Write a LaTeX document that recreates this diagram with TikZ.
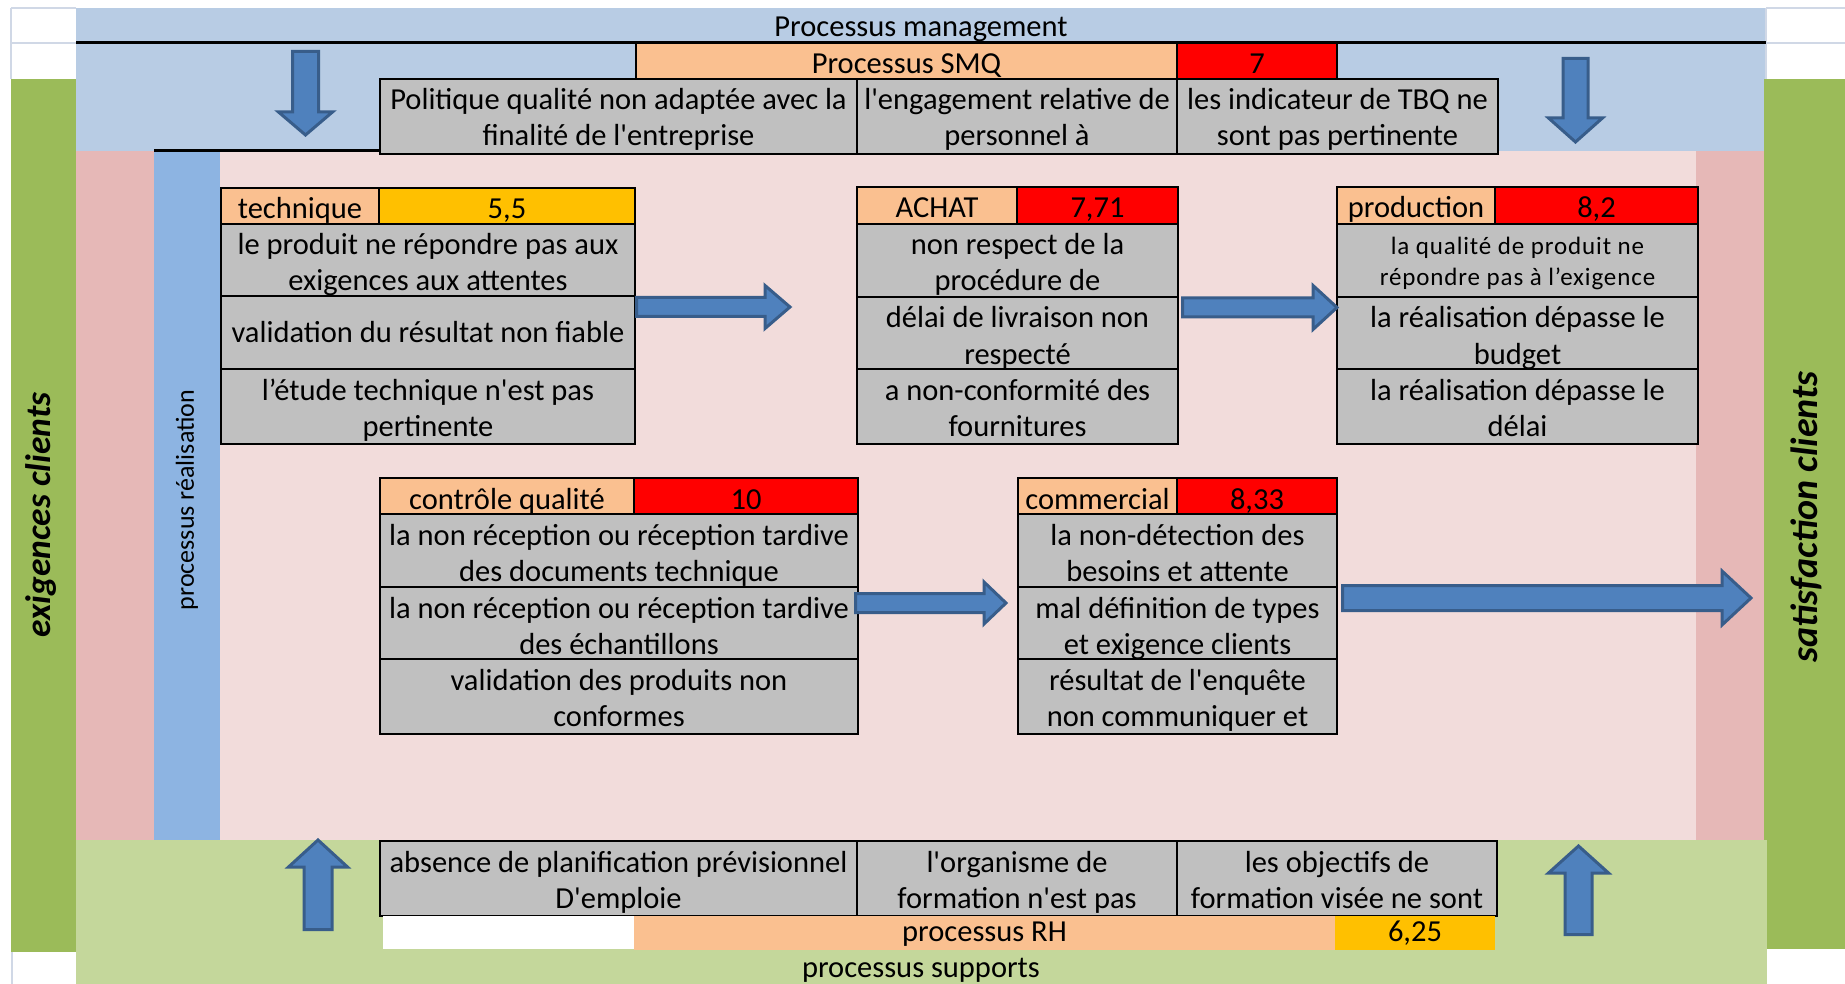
\documentclass[tikz,border=0pt]{standalone}
\usepackage{fontspec}
\setmainfont{Carlito}
\usetikzlibrary{calc}
\definecolor{mgmt}{HTML}{B8CCE4}
\definecolor{gdark}{HTML}{9BBB59}
\definecolor{glight}{HTML}{C4D79B}
\definecolor{plight}{HTML}{F2DCDB}
\definecolor{pdark}{HTML}{E6B8B7}
\definecolor{bstrip}{HTML}{8DB4E2}
\definecolor{corange}{HTML}{FAC090}
\definecolor{cyellow}{HTML}{FFC000}
\definecolor{cred}{HTML}{FF0000}
\definecolor{cgray}{HTML}{C0C0C0}
\definecolor{afill}{HTML}{4F81BD}
\definecolor{aline}{HTML}{385D8A}
\definecolor{gridc}{HTML}{D0D8E6}
\newcommand\cellf{\fontsize{30.5}{36}\selectfont}
\newcommand\smallcellf{\fontsize{25}{31}\selectfont\addfontfeature{LetterSpace=3.5}}
\newcommand\ap{\textquotesingle}
\newcommand\tline[2]{\rule{0pt}{31pt}#1\\#2\rule[-8pt]{0pt}{8pt}}
\newcommand\oline[1]{\rule{0pt}{31pt}#1\rule[-8pt]{0pt}{8pt}}
\newcommand\rline[1]{\rule{0pt}{26pt}#1\rule[-8pt]{0pt}{8pt}}
\newcommand\sline[2]{\rule{0pt}{26.5pt}#1\\#2\rule[-7pt]{0pt}{7pt}}
\newcommand\barr[5]{%
  \path (#2) coordinate (tmptip) ($(#2)!#5!(#1)$) coordinate (tmphb);
  \draw[barrow] ($(#1)!#3!90:(tmptip)$) -- ($(tmphb)!#3!90:(tmptip)$) -- ($(tmphb)!#4!90:(tmptip)$) -- (tmptip)
    -- ($(tmphb)!#4!-90:(tmptip)$) -- ($(tmphb)!#3!-90:(tmptip)$) -- ($(#1)!#3!-90:(tmptip)$) -- cycle;}
\begin{document}
\begin{tikzpicture}[x=1pt,y=-1pt,
  cellbase/.style={draw=black,line width=2.7pt,anchor=north west,inner sep=0pt,outer sep=0pt,align=center,font=\cellf},
  gcell/.style={cellbase,fill=cgray},
  ocell/.style={cellbase,fill=corange},
  rcell/.style={cellbase,fill=cred},
  ycell/.style={cellbase,fill=cyellow},
  plain/.style={anchor=north west,inner sep=0pt,outer sep=0pt,align=center,font=\cellf},
  barrow/.style={fill=afill,draw=aline,line width=3pt,line join=miter},
  gridl/.style={draw=gridc,line width=1.5pt},
  blackl/.style={draw=black,line width=3pt}
]
\useasboundingbox (0,0) rectangle (1845,984);
\fill[white] (0,0) rectangle (1845,984);
% background bands
\fill[mgmt] (76,8) rectangle (1766,151);
\fill[gdark] (11,79) rectangle (76,952);
\fill[gdark] (1764,79) rectangle (1845,949);
\fill[glight] (76,840) rectangle (1767,984);
\fill[pdark] (76,151) rectangle (154,840);
\fill[pdark] (1696,151) rectangle (1764,840);
\fill[bstrip] (154,151) rectangle (220,840);
\fill[plight] (220,151) rectangle (1696,840);
% grid lines of empty cells
\draw[gridl] (11,8) -- (76,8) (11,43) -- (76,43) (11,8) -- (11,79);
\draw[gridl] (1766,8) -- (1845,8) (1766,43) -- (1845,43) (1766,8) -- (1766,79);
\draw[gridl] (12,952) -- (12,984);
% black rules
\draw[blackl] (76,43) -- (1766,43);
\draw[blackl] (154,151) -- (380,151);
% band labels
\node[font=\cellf] (mgmt) at (921,29) {Processus management};
\node[font=\cellf] (supp) at (921,970) {processus supports};
\node[rotate=90,font=\fontsize{35.5}{40}\selectfont\bfseries\itshape] (exig) at (41,515) {exigences clients};
\node[rotate=90,font=\fontsize{38}{42}\selectfont\bfseries\itshape] (satis) at (1806,517) {satisfaction clients};
\node[rotate=90,font=\fontsize{26}{30}\selectfont] (real) at (187,500) {processus réalisation};
% SMQ
\node[ocell,minimum width=541,minimum height=36] (smq) at (636,43) {\oline{Processus SMQ}};
\node[rcell,minimum width=160,minimum height=36] (smqv) at (1177,43) {\oline{7}};
\node[gcell,minimum width=477,minimum height=74] (smq1) at (380,79) {\tline{Politique qualité non adaptée avec la}{finalité de l\ap entreprise}};
\node[gcell,minimum width=320,minimum height=74] (smq2) at (857,79) {\tline{l\ap engagement relative de}{personnel à}};
\node[gcell,minimum width=321,minimum height=74] (smq3) at (1177,79) {\tline{les indicateur de TBQ ne}{sont pas pertinente}};
% technique
\node[ocell,minimum width=158,minimum height=36] (tech) at (221,188) {\oline{technique}};
\node[ycell,minimum width=256,minimum height=36] (techv) at (379,188) {\oline{5,5}};
\node[gcell,minimum width=414,minimum height=72] (tech1) at (221,224) {\tline{le produit ne répondre pas aux}{exigences aux attentes}};
\node[gcell,minimum width=414,minimum height=73] (tech2) at (221,296) {validation du résultat non fiable};
\node[gcell,minimum width=414,minimum height=73] (tech3) at (221,369) {\tline{l’étude technique n\ap est pas}{pertinente}};
% achat
\node[ocell,minimum width=160,minimum height=37] (ach) at (857,187) {\oline{ACHAT}};
\node[rcell,minimum width=161,minimum height=37] (achv) at (1017,187) {\oline{7,71}};
\node[gcell,minimum width=321,minimum height=73] (ach1) at (857,224) {\tline{non respect de la}{procédure de}};
\node[gcell,minimum width=321,minimum height=72] (ach2) at (857,297) {\tline{délai de livraison non}{respecté}};
\node[gcell,minimum width=321,minimum height=74] (ach3) at (857,369) {\tline{a non-conformité des}{fournitures}};
% production
\node[ocell,minimum width=158,minimum height=37] (prod) at (1337,187) {\oline{production}};
\node[rcell,minimum width=203,minimum height=37] (prodv) at (1495,187) {\oline{8,2}};
\node[gcell,minimum width=361,minimum height=73,font=\smallcellf] (prod1) at (1337,224) {\sline{la qualité de produit ne}{répondre pas à l’exigence}};
\node[gcell,minimum width=361,minimum height=72] (prod2) at (1337,297) {\tline{la réalisation dépasse le}{budget}};
\node[gcell,minimum width=361,minimum height=74] (prod3) at (1337,369) {\tline{la réalisation dépasse le}{délai}};
% controle qualite
\node[ocell,minimum width=254,minimum height=36] (cq) at (380,478) {\oline{contrôle qualité}};
\node[rcell,minimum width=224,minimum height=36] (cqv) at (634,478) {\oline{10}};
\node[gcell,minimum width=478,minimum height=73] (cq1) at (380,514) {\tline{la non réception ou réception tardive}{des documents technique}};
\node[gcell,minimum width=478,minimum height=72] (cq2) at (380,587) {\tline{la non réception ou réception tardive}{des échantillons}};
\node[gcell,minimum width=478,minimum height=74] (cq3) at (380,659) {\tline{validation des produits non}{conformes}};
% commercial
\node[ocell,minimum width=159,minimum height=36] (com) at (1018,478) {\oline{commercial}};
\node[rcell,minimum width=160,minimum height=36] (comv) at (1177,478) {\oline{8,33}};
\node[gcell,minimum width=319,minimum height=73] (com1) at (1018,514) {\tline{la non-détection des}{besoins et attente}};
\node[gcell,minimum width=319,minimum height=72] (com2) at (1018,587) {\tline{mal définition de types}{et exigence clients}};
\node[gcell,minimum width=319,minimum height=74] (com3) at (1018,659) {\tline{résultat de l\ap enquête}{non communiquer et}};
% RH
\node[gcell,minimum width=477,minimum height=73] (rh1) at (380,841) {\tline{absence de planification prévisionnel}{D\ap emploie}};
\node[gcell,minimum width=320,minimum height=73] (rh2) at (857,841) {\tline{l\ap organisme de}{formation n\ap est pas}};
\node[gcell,minimum width=320,minimum height=73] (rh3) at (1177,841) {\tline{les objectifs de}{formation visée ne sont}};
\fill[white] (383,915.5) rectangle (634,949);
\node[plain,fill=corange,minimum width=701,minimum height=34] (rh) at (634,915.5) {\rline{processus RH}};
\node[plain,fill=cyellow,minimum width=160,minimum height=34] (rhv) at (1335,915.5) {\rline{6,25}};
% arrows
\coordinate (a1s) at (636.5,307);  \coordinate (a1e) at (790,307);
\coordinate (a2s) at (1182.5,307.5); \coordinate (a2e) at (1337,307.5);
\coordinate (a3s) at (855.5,603); \coordinate (a3e) at (1006,603);
\coordinate (a4s) at (1342.5,598); \coordinate (a4e) at (1751,598);
\coordinate (d1s) at (305.5,51.5); \coordinate (d1e) at (305.5,135);
\coordinate (d2s) at (1575.5,58.5); \coordinate (d2e) at (1575.5,142);
\coordinate (u1s) at (318,929.5); \coordinate (u1e) at (318,840);
\coordinate (u2s) at (1578.5,934.5); \coordinate (u2e) at (1578.5,846);
\barr{a1s}{a1e}{9.5pt}{21.5pt}{25pt}
\barr{a2s}{a2e}{9.5pt}{22pt}{24pt}
\barr{a3s}{a3e}{9.5pt}{21pt}{22pt}
\barr{a4s}{a4e}{12.5pt}{27pt}{29pt}
\barr{d1s}{d1e}{13pt}{27pt}{23pt}
\barr{d2s}{d2e}{12.5pt}{27pt}{24pt}
\barr{u1s}{u1e}{14pt}{29.5pt}{27pt}
\barr{u2s}{u2e}{13.5pt}{30pt}{27pt}
\end{tikzpicture}
\end{document}
